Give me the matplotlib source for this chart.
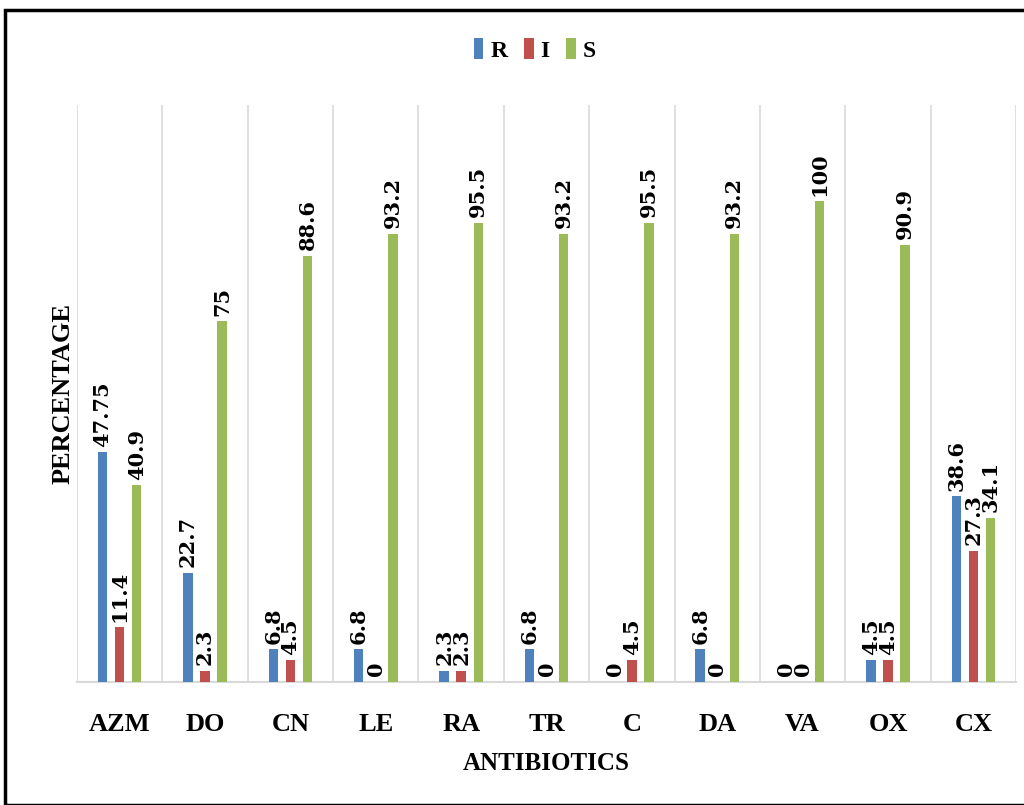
import numpy as np
import matplotlib.pyplot as plt
from matplotlib.patches import Rectangle

# Data
antibiotics = ["AZM", "DO", "CN", "LE", "RA", "TR", "C", "DA", "VA", "OX", "CX"]
r_vals = [47.75, 22.7, 6.8, 6.8, 2.3, 6.8, 0, 6.8, 0, 4.5, 38.6]
i_vals = [11.4, 2.3, 4.5, 0, 2.3, 0, 4.5, 0, 0, 4.5, 27.3]
s_vals = [40.9, 75, 88.6, 93.2, 95.5, 93.2, 95.5, 93.2, 100, 90.9, 34.1]

r_labels = ["47.75", "22.7", "6.8", "6.8", "2.3", "6.8", "0", "6.8", "0", "4.5", "38.6"]
i_labels = ["11.4", "2.3", "4.5", "0", "2.3", "0", "4.5", "0", "0", "4.5", "27.3"]
s_labels = ["40.9", "75", "88.6", "93.2", "95.5", "93.2", "95.5", "93.2", "100", "90.9", "34.1"]

COLORS = ["#4F81BD", "#C0504D", "#9BBB59"]
FONT = "Liberation Serif"
LABEL_FONT = "DejaVu Serif"

fig = plt.figure(figsize=(10.24, 8.05), dpi=100)
ax = fig.add_axes([77 / 1024, 123 / 805, (1016 - 77) / 1024, (682 - 105) / 805])

x = np.arange(len(antibiotics))
width = 0.11
offset = 0.2

series = [("R", r_vals, r_labels), ("I", i_vals, i_labels), ("S", s_vals, s_labels)]
for k, (name, vals, labels) in enumerate(series):
    pos = x + (k - 1) * offset
    bars = ax.bar(pos, vals, width, color=COLORS[k], label=name, zorder=3)
    for b, lab in zip(bars, labels):
        ax.annotate(lab, (b.get_x() + b.get_width() / 2, b.get_height()),
                    xytext=(0, 4), textcoords="offset points",
                    rotation=90, ha="center", va="bottom",
                    fontsize=15, fontweight="bold", family=LABEL_FONT)

ax.set_xlim(-0.5, len(antibiotics) - 0.5)
ax.set_ylim(0, 120)

# category separators
for b in np.arange(-0.5, len(antibiotics), 1.0):
    ax.axvline(b, color="#D9D9D9", lw=1.2, zorder=1)

for side in ["top", "right", "left"]:
    ax.spines[side].set_visible(False)
ax.spines["bottom"].set_color("#D9D9D9")
ax.spines["bottom"].set_linewidth(1.5)

ax.set_yticks([])
ax.set_xticks(x)
ax.set_xticklabels(antibiotics, fontsize=19, fontweight="bold", family=FONT)
ax.tick_params(axis="x", length=0, pad=22)

ax.set_xlabel("ANTIBIOTICS", fontsize=18, fontweight="bold", family=FONT, labelpad=12)
ax.set_ylabel("PERCENTAGE", fontsize=19, fontweight="bold", family=FONT, labelpad=2)

leg = fig.legend(loc="center", bbox_to_anchor=(535 / 1024, 1 - 50 / 805), ncol=3,
                 frameon=False, handlelength=0.4, handleheight=1.0,
                 handletextpad=0.3, columnspacing=0.7,
                 prop={"family": FONT, "weight": "bold", "size": 17})

# outer frame
fig.patches.append(Rectangle((5 / 1024, 0), 1.0, 1 - 10 / 805, transform=fig.transFigure,
                             fill=False, edgecolor="black", lw=2.5))

fig.savefig("out.png", dpi=100)
